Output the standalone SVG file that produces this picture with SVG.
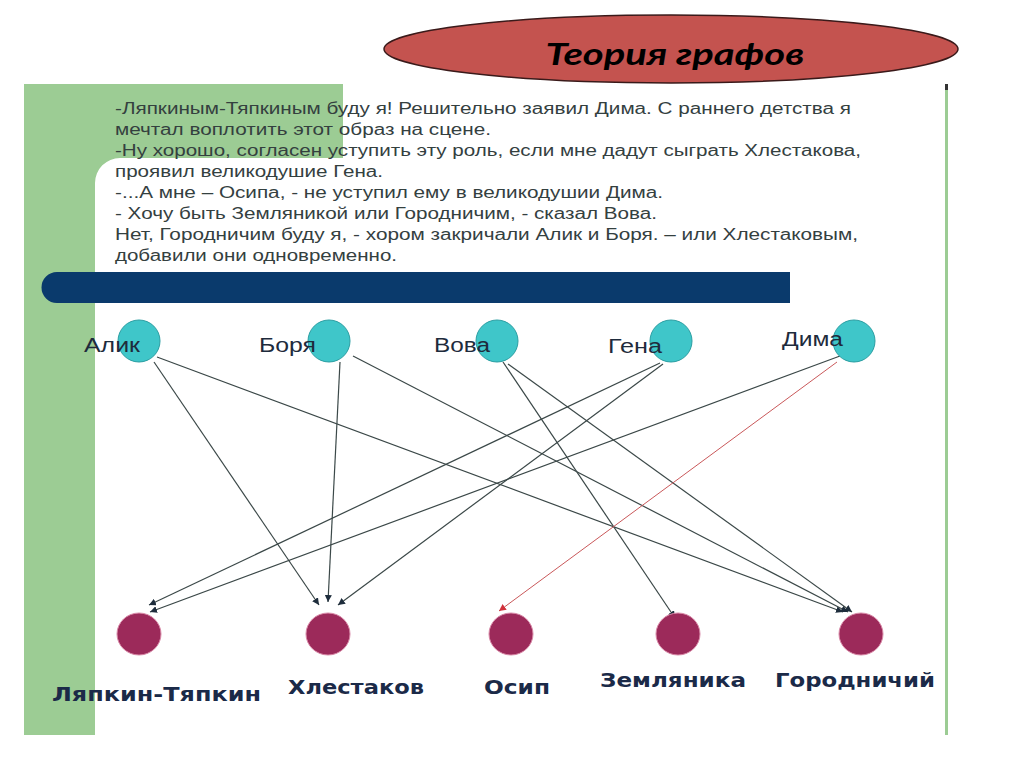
<svg xmlns="http://www.w3.org/2000/svg" width="1024" height="767" viewBox="0 0 1024 767">
<defs>
<style>
.body{font-family:"Liberation Sans",Arial,sans-serif;font-size:16px;fill:#34403f}
.top{font-family:"Liberation Sans",Arial,sans-serif;font-size:20px;fill:#1e2b3c}
.bot{font-family:"DejaVu Sans","Liberation Sans",sans-serif;font-weight:bold;font-size:20px;fill:#1b2a48}
.src{fill:#3fc6c9;stroke:#2a9ea2;stroke-width:1}
.dst{fill:#9c2a5a;stroke:#d98aa8;stroke-width:1}
.edge{stroke:#3b4848;stroke-width:1.2;fill:none;marker-end:url(#ah)}
.red{stroke:#c9585a;stroke-width:1;fill:none;marker-end:url(#ahr)}
</style>
<marker id="ah" viewBox="0 0 10 10" refX="10" refY="5" markerWidth="7" markerHeight="7" markerUnits="userSpaceOnUse" orient="auto"><path d="M0,0 L10,5 L0,10 Z" fill="#1e2d3c"/></marker>
<marker id="ahr" viewBox="0 0 10 10" refX="10" refY="5" markerWidth="7" markerHeight="7" markerUnits="userSpaceOnUse" orient="auto"><path d="M0,0 L10,5 L0,10 Z" fill="#d0303a"/></marker>
</defs>
<rect x="0" y="0" width="1024" height="767" fill="#ffffff"/>
<g id="panel">
<path d="M24,84 H343 V158 H120 A25,25 0 0 0 95,183 V735 H24 Z" fill="#9ccc94"/>
<rect x="945" y="84" width="3" height="651" fill="#9ccc94"/>
<rect x="945" y="84" width="3" height="6" fill="#333"/>
<path d="M57,272 H790 V303 H57 A15.5,15.5 0 0 1 57,272 Z" fill="#0a3a6c"/>
</g>
<g id="title">
<ellipse cx="671" cy="49" rx="287" ry="34" fill="#c4534f" stroke="#3a1a1a" stroke-width="1.5"/>
<text x="675" y="65" text-anchor="middle" font-family="Lato,'Open Sans',sans-serif" font-style="italic" font-weight="bold" font-size="31" fill="#000" textLength="259" lengthAdjust="spacingAndGlyphs">Теория графов</text>
</g>
<g id="story">
<text class="body" x="115" y="114" textLength="736" lengthAdjust="spacingAndGlyphs">-Ляпкиным-Тяпкиным буду я! Решительно заявил Дима. С раннего детства я</text>
<text class="body" x="115" y="135" textLength="376" lengthAdjust="spacingAndGlyphs">мечтал воплотить этот образ на сцене.</text>
<text class="body" x="115" y="156" textLength="746" lengthAdjust="spacingAndGlyphs">-Ну хорошо, согласен уступить эту роль, если мне дадут сыграть Хлестакова,</text>
<text class="body" x="115" y="177" textLength="268" lengthAdjust="spacingAndGlyphs">проявил великодушие Гена.</text>
<text class="body" x="115" y="198" textLength="548" lengthAdjust="spacingAndGlyphs">-...А мне – Осипа, - не уступил ему в великодушии Дима.</text>
<text class="body" x="115" y="219" textLength="542" lengthAdjust="spacingAndGlyphs">- Хочу быть Земляникой или Городничим, - сказал Вова.</text>
<text class="body" x="115" y="240" textLength="743" lengthAdjust="spacingAndGlyphs">Нет, Городничим буду я, - хором закричали Алик и Боря. – или Хлестаковым,</text>
<text class="body" x="115" y="261" textLength="282" lengthAdjust="spacingAndGlyphs">добавили они одновременно.</text>
</g>
<g id="connectors">
<line class="edge" x1="154" y1="362" x2="319" y2="605"/>
<line class="edge" x1="157" y1="357" x2="843" y2="612"/>
<line class="edge" x1="340" y1="362" x2="328" y2="602"/>
<line class="edge" x1="353" y1="356" x2="848" y2="612"/>
<line class="edge" x1="503" y1="362" x2="675" y2="618"/>
<line class="edge" x1="508" y1="364" x2="852" y2="612"/>
<line class="edge" x1="660" y1="363" x2="149" y2="605"/>
<line class="edge" x1="663" y1="364" x2="338" y2="605"/>
<line class="edge" x1="840" y1="356" x2="150" y2="612"/>
<line class="red" x1="837" y1="362" x2="499" y2="611"/>
</g>
<g id="n-alik"><circle class="src" cx="139" cy="341" r="21"/><text class="top" x="84" y="352" textLength="56" lengthAdjust="spacingAndGlyphs">Алик</text></g>
<g id="n-borya"><circle class="src" cx="329" cy="341" r="21"/><text class="top" x="259" y="352" textLength="57" lengthAdjust="spacingAndGlyphs">Боря</text></g>
<g id="n-vova"><circle class="src" cx="497" cy="341" r="21"/><text class="top" x="434" y="352" textLength="56" lengthAdjust="spacingAndGlyphs">Вова</text></g>
<g id="n-gena"><circle class="src" cx="671" cy="341" r="21"/><text class="top" x="608" y="353" textLength="54" lengthAdjust="spacingAndGlyphs">Гена</text></g>
<g id="n-dima"><circle class="src" cx="854" cy="341" r="21"/><text class="top" x="782" y="346" textLength="61" lengthAdjust="spacingAndGlyphs">Дима</text></g>
<g id="n-lyapkin"><ellipse class="dst" cx="139" cy="634" rx="22" ry="21"/><text class="bot" x="52" y="701" textLength="209" lengthAdjust="spacingAndGlyphs">Ляпкин-Тяпкин</text></g>
<g id="n-khlestakov"><ellipse class="dst" cx="328" cy="634" rx="22" ry="21"/><text class="bot" x="288" y="694" textLength="136" lengthAdjust="spacingAndGlyphs">Хлестаков</text></g>
<g id="n-osip"><ellipse class="dst" cx="511" cy="634" rx="22" ry="21"/><text class="bot" x="484" y="694" textLength="66" lengthAdjust="spacingAndGlyphs">Осип</text></g>
<g id="n-zemlyanika"><ellipse class="dst" cx="678" cy="634" rx="22" ry="21"/><text class="bot" x="600" y="687" textLength="146" lengthAdjust="spacingAndGlyphs">Земляника</text></g>
<g id="n-gorodnichiy"><ellipse class="dst" cx="861" cy="634" rx="22" ry="21"/><text class="bot" x="775" y="687" textLength="160" lengthAdjust="spacingAndGlyphs">Городничий</text></g>
</svg>
